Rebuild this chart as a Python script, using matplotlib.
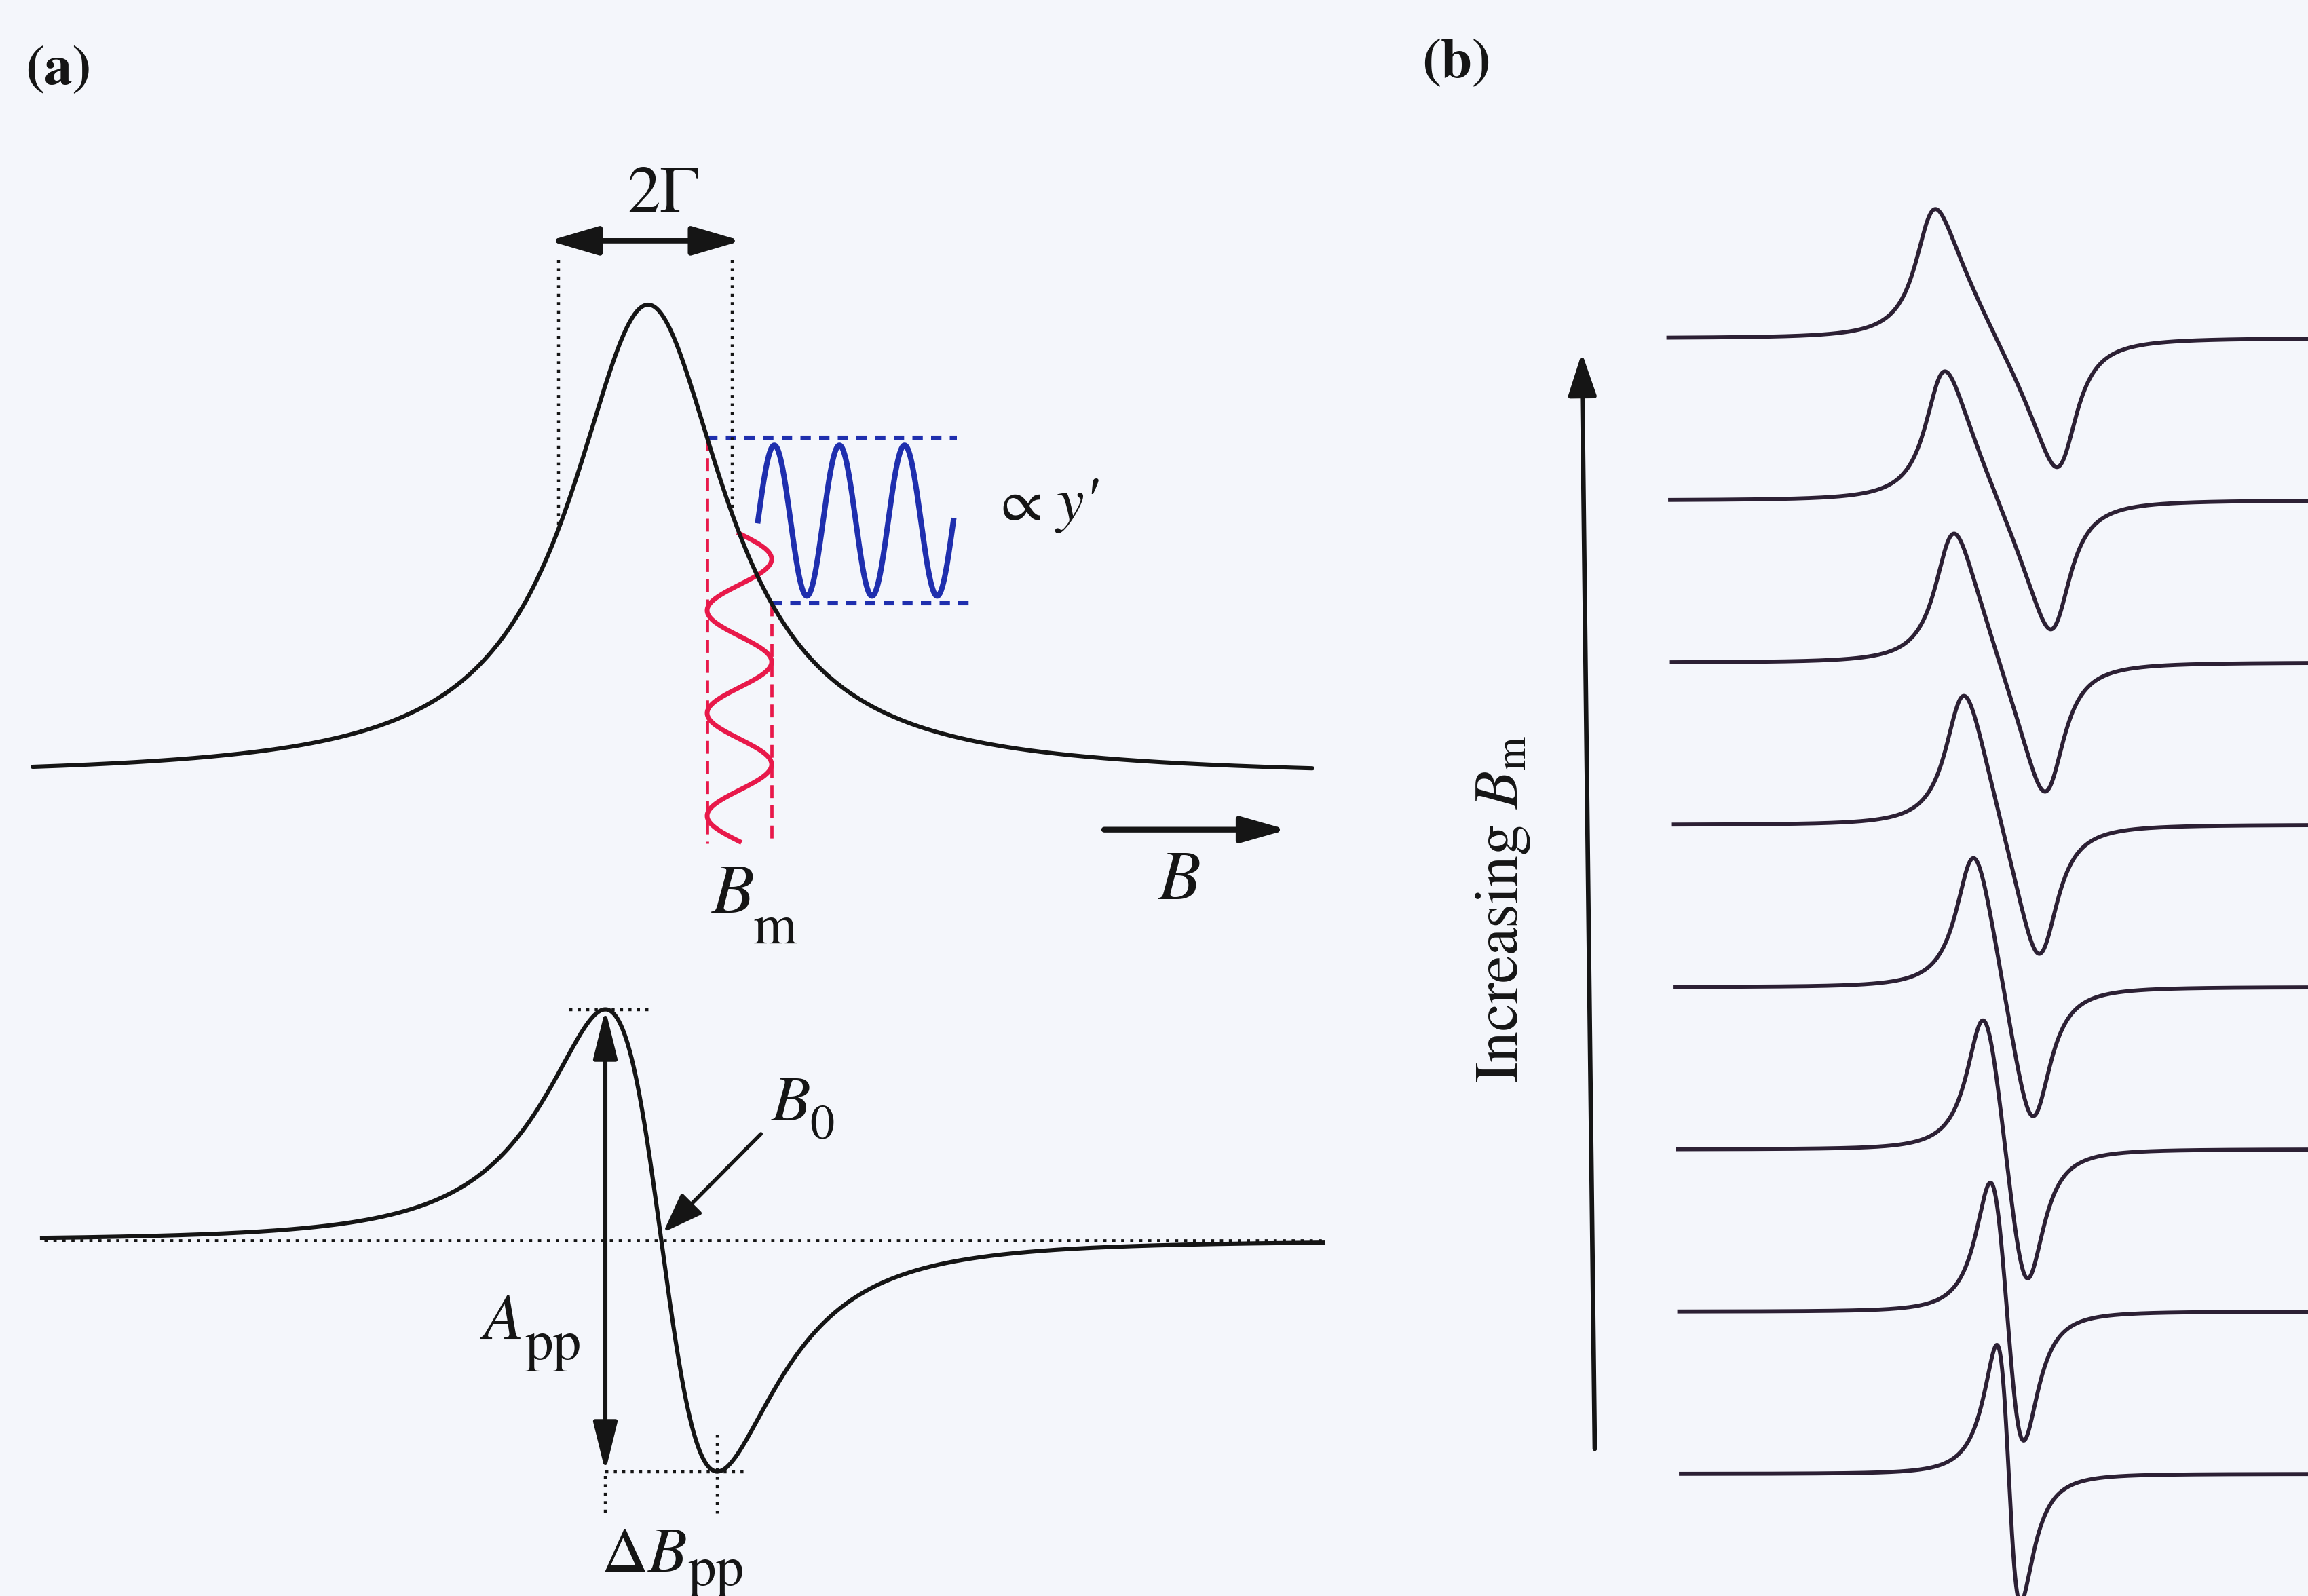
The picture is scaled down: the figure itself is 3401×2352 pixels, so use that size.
import numpy as np
import matplotlib
matplotlib.use("Agg")
import matplotlib.pyplot as plt

plt.rcParams["font.family"] = "STIXGeneral"
plt.rcParams["mathtext.fontset"] = "stix"

# ---------------------------------------------------------------- data
# (a) upper: Lorentzian absorption, field in units of the half width Gamma
ABS_X_RANGE = (-6.525, 7.043)
GAMMA_MARKS = (-0.95, 0.89)          # dotted half-width markers
GAMMA_ARROW = (-1.05, 0.99)          # the "2Gamma" arrow span
MOD_CENTER = 0.968                   # field at which the modulation is applied
MOD_AMPL = 0.342                     # modulation amplitude B_m
MOD_CYCLES = 3                       # cycles shown for modulation / response
RESP_X_RANGE = (1.165, 3.237)        # horizontal extent of the response wave
RESP_FRACTION = 0.91                 # response amplitude relative to the dashed band
BAND_ENDS = (3.273, 3.432)           # right ends of the upper/lower dashed band
MOD_BOTTOM = -0.135                  # lower end of the modulation wave
FIELD_ARROW = (4.835, 6.777, -0.110)

# (a) lower: first-derivative line, peak-normalised
DER_X_RANGE = (-6.386, 6.826)
ZERO_LINE = (-6.365, 6.84)
PEAK_MARK = (-0.948, -0.115)
TROUGH_MARK_END = 0.885
TICK_DEPTH = -1.19
TROUGH_TICK_TOP = -0.84
B0_ARROW = ((1.027, 0.461), (0.02, 0.035))

# (b) stack of first-harmonic signals, field in units of Gamma,
# peak-to-peak widths of each trace (bottom -> top, increasing B_m)
PP_WIDTHS = [1.167, 1.633, 2.20, 2.933, 3.70, 4.467, 5.20, 5.967]
TRACE_CENTERS = [0.333, 0.25, 0.167, 0.067, -0.017, -0.117, -0.20, -0.283]
TRACE_START = -16.1                  # left end of each trace relative to its centre
TRACE_AMPL = 0.795                   # peak height in units of trace spacing

# ---------------------------------------------------------------- styling
W, H, DPI = 3401, 2352, 200
BG = "#f4f6fb"
INK = "#151515"
TRACE_INK = "#2c2034"
BLUE = "#1f2fae"
RED = "#e8194a"
DOT = (0, (1, 1.8))

fig = plt.figure(figsize=(W / DPI, H / DPI), dpi=DPI, facecolor=BG)


def add_panel(left, top, right, bottom, cx, sx, cy, sy):
    """Axes covering a pixel box; data x = (px - cx)/sx, data y = (cy - py)/sy."""
    ax = fig.add_axes([left / W, 1 - bottom / H, (right - left) / W, (bottom - top) / H])
    ax.set_xlim((left - cx) / sx, (right - cx) / sx)
    ax.set_ylim((cy - bottom) / sy, (cy - top) / sy)
    ax.axis("off")
    ax.patch.set_alpha(0)
    return ax


def arrow(ax, p0, p1, lw, color=INK, both=False, hl=0.6, hw=0.16, ms=36, z=5):
    style = ("<|-|>" if both else "-|>") + f",head_length={hl},head_width={hw}"
    ax.annotate("", xy=p1, xytext=p0, annotation_clip=False, zorder=z,
                arrowprops=dict(arrowstyle=style, mutation_scale=ms, lw=lw,
                                color=color, shrinkA=0, shrinkB=0))


def lorentz(x):
    return 1.0 / (1.0 + x ** 2)


def lorentz_deriv_norm(x):
    return -x / (1.0 + x ** 2) ** 2 * 16.0 * np.sqrt(3.0) / 9.0


def harmonic(z, bm, gamma=1.0):
    """First-harmonic signal of a Lorentzian under field modulation of amplitude bm."""
    a = z + 1j * gamma
    s = np.sqrt(a - bm) * np.sqrt(a + bm)
    return ((2j * gamma / bm) * (1 - a / s)).real


def pp_width(bm):
    z = np.linspace(-bm - 8, bm + 8, 20001)
    h = harmonic(z, bm)
    return z[np.argmin(h)] - z[np.argmax(h)]


def solve_bm(width):
    lo, hi = 1e-3, max(width, 2.0)
    for _ in range(50):
        mid = 0.5 * (lo + hi)
        if pp_width(mid) < width:
            lo = mid
        else:
            hi = mid
    return 0.5 * (lo + hi)


# ---------------------------------------------------------------- (a) absorption
ax1 = add_panel(0, 180, 1980, 1440, cx=955, sx=139, cy=1146, sy=697)
x = np.linspace(*ABS_X_RANGE, 2000)
ax1.plot(x, lorentz(x), color=INK, lw=2.2, zorder=4, solid_capstyle="round")

for gx in GAMMA_MARKS:
    ax1.plot([gx, gx], [1.095, lorentz(gx)], color=INK, lw=1.6, ls=DOT, zorder=3)
arrow(ax1, (GAMMA_ARROW[0], 1.135), (GAMMA_ARROW[1], 1.135), lw=2.8, both=True,
      hl=0.65, hw=0.19, ms=34)

lo_f, hi_f = MOD_CENTER - MOD_AMPL, MOD_CENTER + MOD_AMPL
lvl_top, lvl_bot = lorentz(lo_f), lorentz(hi_f)

# modulation of the field (red), drawn as a vertical sinusoid
y0 = lorentz(MOD_CENTER)
yy = np.linspace(y0, MOD_BOTTOM, 800)
period = (y0 - MOD_BOTTOM) / MOD_CYCLES
ax1.plot(MOD_CENTER + MOD_AMPL * np.sin(2 * np.pi * (y0 - yy) / period), yy,
         color=RED, lw=2.5, zorder=3)
ax1.plot([lo_f, lo_f], [lvl_top, MOD_BOTTOM - 0.004], color=RED, lw=1.7,
         ls=(0, (4, 2.3)), zorder=2)
ax1.plot([hi_f, hi_f], [lvl_bot, MOD_BOTTOM - 0.004], color=RED, lw=1.7,
         ls=(0, (4, 2.3)), zorder=2)

# resulting signal modulation (blue)
ax1.plot([lo_f, BAND_ENDS[0]], [lvl_top, lvl_top], color=BLUE, lw=2.2,
         ls=(0, (2.5, 2)), zorder=2)
ax1.plot([hi_f, BAND_ENDS[1]], [lvl_bot, lvl_bot], color=BLUE, lw=2.2,
         ls=(0, (2.5, 2)), zorder=2)
xr = np.linspace(*RESP_X_RANGE, 800)
mid = 0.5 * (lvl_top + lvl_bot)
amp = 0.5 * (lvl_top - lvl_bot) * RESP_FRACTION
ax1.plot(xr, mid + amp * np.sin(2 * np.pi * MOD_CYCLES * (xr - xr[0]) / (xr[-1] - xr[0])),
         color=BLUE, lw=2.9, zorder=3)

arrow(ax1, (FIELD_ARROW[0], FIELD_ARROW[2]), (FIELD_ARROW[1], FIELD_ARROW[2]), lw=3.0,
      hl=0.6, hw=0.17, ms=34)

# ---------------------------------------------------------------- (a) derivative
ax2 = add_panel(0, 1440, 1980, 2352, cx=974.5, sx=142.9, cy=1828, sy=340.5)
xd = np.linspace(*DER_X_RANGE, 2000)
ax2.plot(xd, lorentz_deriv_norm(xd), color=INK, lw=2.2, zorder=4)
ax2.plot(ZERO_LINE, [0, 0], color=INK, lw=1.7, ls=DOT, zorder=5)

xpk = -1 / np.sqrt(3)
ax2.plot(PEAK_MARK, [1, 1], color=INK, lw=1.6, ls=DOT, zorder=3)
ax2.plot([xpk, TROUGH_MARK_END], [-1, -1], color=INK, lw=1.6, ls=DOT, zorder=3)
ax2.plot([xpk, xpk], [-1.02, TICK_DEPTH], color=INK, lw=1.6, ls=DOT, zorder=3)
ax2.plot([-xpk, -xpk], [TROUGH_TICK_TOP, TICK_DEPTH], color=INK, lw=1.6, ls=DOT, zorder=3)
arrow(ax2, (xpk, -1), (xpk, 1), lw=2.2, both=True, hl=0.65, hw=0.16, ms=34)
arrow(ax2, *B0_ARROW, lw=2.0, hl=0.6, hw=0.22, ms=30)

# ---------------------------------------------------------------- (b) stacked traces
ax3 = add_panel(2300, 0, 3401, 2352, cx=2950, sx=30, cy=2172, sy=239.1)
right_edge = ax3.get_xlim()[1] + 0.5
for k, (wpp, c) in enumerate(zip(PP_WIDTHS, TRACE_CENTERS)):
    bm = solve_bm(wpp)
    z = np.linspace(c + TRACE_START, right_edge, 8000)
    h = harmonic(z - c, bm)
    ax3.plot(z, k + TRACE_AMPL * h / h.max(), color=TRACE_INK, lw=2.1, zorder=3,
             clip_on=False)

# ---------------------------------------------------------------- text overlay (pixel coordinates)
ov = fig.add_axes([0, 0, 1, 1])
ov.set_xlim(0, W)
ov.set_ylim(H, 0)
ov.axis("off")
ov.patch.set_alpha(0)


def t(x, y, s, size, **kw):
    ov.text(x, y, s, fontsize=size, color=INK, ha=kw.pop("ha", "left"),
            va=kw.pop("va", "baseline"), **kw)


t(37, 124, "(a)", 30, fontweight="bold")
t(2095, 114, "(b)", 30, fontweight="bold")
t(977, 312, "2Γ", 35, ha="center")
t(1474, 767, "∝", 32)
t(1556, 767, "y'", 33, style="italic")
t(1707, 1325, "B", 37, style="italic")
t(1049, 1345, "B", 37, style="italic")
t(1110, 1390, "m", 30)
t(1137, 1651, "B", 34, style="italic")
t(1193, 1678, "0", 26)
t(712, 1973, "A", 35, style="italic")
t(774, 2003, "pp", 30)
t(886, 2316, r"$\Delta B$", 34)
t(1014, 2336, "pp", 30)

arrow(ov, (2350, 2135), (2331, 520), lw=2.4, hl=0.6, hw=0.2, ms=32)
t(2215, 1340, r"Increasing $B_{\mathrm{m}}$", 33, ha="center", va="center", rotation=90)

fig.savefig("out.png", dpi=DPI, facecolor=BG)
